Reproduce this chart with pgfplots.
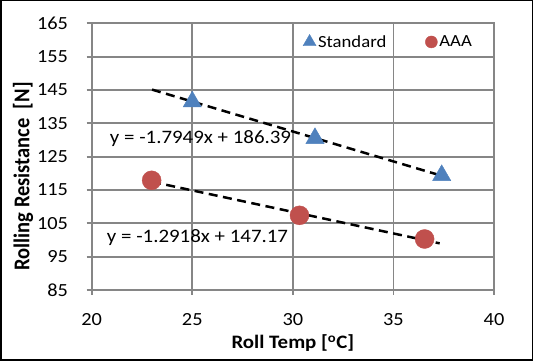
\documentclass[border=0pt]{standalone}
\usepackage{pgfplots}
\pgfplotsset{compat=1.18}
\usepackage{graphicx}
\usepackage{fontspec}
\setmainfont{Carlito}[FakeStretch=1.1]
\newfontfamily\plainfont{Carlito}
\definecolor{sblue}{HTML}{4F81BD}
\definecolor{sred}{HTML}{C0504D}
\definecolor{gridg}{RGB}{134,134,134}
\begin{document}
\begin{tikzpicture}[x=1pt,y=1pt]
\useasboundingbox (0,0) rectangle (533,361);
\begin{axis}[
  at={(91.7pt,71pt)}, anchor=south west,
  scale only axis, width=402.3pt, height=266.7pt,
  xmin=20, xmax=40, ymin=85, ymax=165,
  xtick={20,25,30,35,40}, ytick={85,95,...,165},
  grid=major,
  grid style={gridg, line width=1.8pt},
  axis line style={gridg, line width=1.8pt},
  tick style={gridg, line width=1.8pt},
  major tick length=5pt, tick align=outside,
  xtick pos=bottom, ytick pos=left,
  /pgf/number format/assume math mode=true,
  tick label style={font=\fontsize{18.5}{22}\selectfont, inner sep=0pt},
  yticklabel style={anchor=east, xshift=-18.5pt},
  xticklabel style={anchor=north, yshift=-18pt},
  xlabel={Roll Temp [\textsuperscript{o}C]},
  ylabel={\plainfont\bfseries\scalebox{1}[1.1]{Rolling Resistance\ \ [N]}},
  label style={font=\bfseries\fontsize{19}{23}\selectfont},
  xlabel style={at={(axis description cs:0.5,-0.2)}, anchor=center},
  ylabel style={at={(axis description cs:-0.1708,0.4256)}, anchor=center, font=\bfseries\fontsize{20.5}{24}\selectfont},
  clip=false,
  legend columns=2,
  legend style={draw=none, fill=none, at={(axis description cs:0.525,0.93)}, anchor=west,
    font=\fontsize{17}{20}\selectfont, inner sep=0pt,
    /tikz/every even column/.append style={column sep=37pt}},
  legend cell align=left,
  legend image code/.code={\draw[mark repeat=1,#1] plot coordinates {(6.5pt,0pt)};},
]
\addplot[only marks, mark=triangle*, mark size=10.5pt, color=sblue,
  legend image post style={mark size=7.5pt}]
  coordinates {(25,141.5) (31.1,130.5) (37.4,119.4)};
\addlegendentry{Standard}
\addplot[only marks, mark=*, mark size=9.5pt, color=sred,
  legend image post style={mark size=6pt}]
  coordinates {(22.98,117.9) (30.33,107.4) (36.55,100.3)};
\addlegendentry{AAA}
\addplot[forget plot, black, line width=2.5pt, dash pattern=on 9pt off 5.5pt]
  coordinates {(23,145.11) (37.4,119.26)};
\addplot[forget plot, black, line width=2.5pt, dash pattern=on 9pt off 5.5pt]
  coordinates {(23,117.46) (37.3,98.99)};
\node[font=\fontsize{19}{23}\selectfont, inner sep=0pt] at (axis cs:25.41,130.3) {y = -1.7949x + 186.39};
\node[font=\fontsize{19}{23}\selectfont, inner sep=0pt] at (axis cs:25.26,100.6) {y = -1.2918x + 147.17};
\end{axis}
\draw[black, line width=1.5pt] (0.75,0.75) rectangle (532.25,360.25);
\end{tikzpicture}
\end{document}
